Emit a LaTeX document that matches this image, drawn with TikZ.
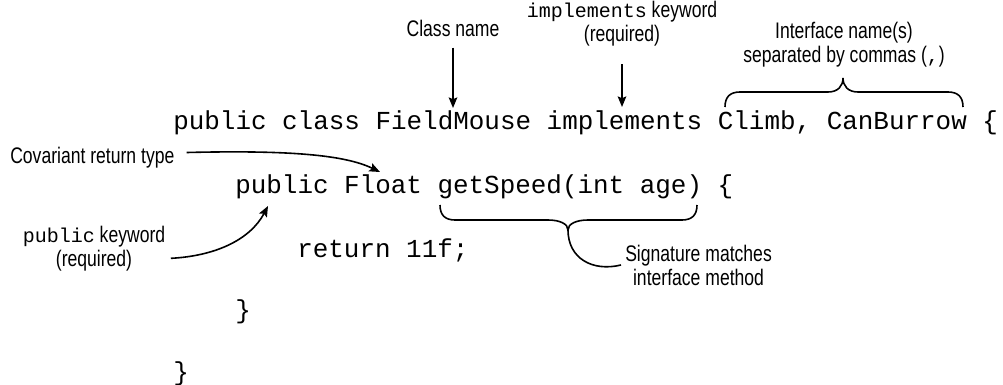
\documentclass[tikz,border=0pt]{standalone}
\usepackage{fontspec}
\newfontfamily\codefont{Liberation Mono}
\newfontfamily\lblfont{Liberation Sans}[FakeStretch=0.78]
\usetikzlibrary{arrows.meta}

\newcommand{\kw}[1]{{\codefont\fontsize{15}{18}\selectfont #1}}

\tikzset{
  code/.style={anchor=base west, inner sep=0pt, font=\codefont\fontsize{19.45}{23}\selectfont},
  lbl/.style={align=center, inner sep=0pt, font=\lblfont\fontsize{16.9}{18}\selectfont},
  arr/.style={line width=1.2pt, -{Stealth[length=8pt,width=6.5pt,inset=1.5pt]}},
  brc/.style={line width=1.2pt},
}

\begin{document}
\begin{tikzpicture}[x=0.75pt,y=0.75pt,yscale=-1,xscale=1]
\useasboundingbox (0,0) rectangle (1003,385);
\frenchspacing

% Code lines
\node[code] (l1) at (173,129) {public class FieldMouse implements Climb, CanBurrow \{};
\node[code] (l2) at (235,193) {public Float getSpeed(int age) \{};
\node[code] (l3) at (297,257) {return 11f;};
\node[code] (l4) at (235,318) {\}};
\node[code] (l5) at (173,380) {\}};

% Text Node
\node[lbl] (classlbl) at (453,28.5) {Class name};
% Text Node
\node[lbl] (implbl) at (622,24) {\kw{implements} keyword\\(required)};
% Text Node
\node[lbl] (ifacelbl) at (844,45) {Interface name(s)\\separated by commas (\kw{,})};
% Text Node
\node[lbl, anchor=base west] (covlbl) at (10,163) {Covariant return type};
% Text Node
\node[lbl] (publbl) at (94,249) {\kw{public} keyword\\(required)};
% Text Node
\node[lbl, anchor=west] (siglbl) at (625,265) {Signature matches\\interface method};

% Arrow ends
\coordinate (classtip) at (453,108);
\coordinate (impltip) at (622,107);
\coordinate (covtip) at (380,172);
\coordinate (pubtip) at (268,206);

%Straight Lines
\draw[arr, shorten <=8pt] (classlbl.south) -- (classtip);
\draw[arr, shorten <=13pt] (implbl.south) -- (impltip);

%Curve Lines
\draw[arr] ([xshift=9pt,yshift=-3.5pt]covlbl.east) .. controls (290,150) and (345,155) .. (covtip);
\draw[arr] ([xshift=4pt,yshift=7pt]publbl.east) .. controls (215,256) and (250,240) .. (pubtip);

%Brace over interface names
\draw[brc] (725,107) .. controls (725,97) and (730,92) .. (740,92) -- (828,92)
  .. controls (838,92) and (843,86) .. (843,78)
  .. controls (843,86) and (848,92) .. (858,92) -- (948,92)
  .. controls (958,92) and (963,97) .. (963,107);

%Brace under method signature
\coordinate (cusp) at (568,230);
\draw[brc] (440,205) .. controls (440,215) and (445,220) .. (455,220) -- (548,220)
  .. controls (560,220) and (568,224) .. (cusp)
  .. controls (568,224) and (576,220) .. (588,220) -- (682,220)
  .. controls (692,220) and (697,215) .. (697,205);
\draw[brc] (cusp) .. controls (568,258) and (592,272) .. ([xshift=-3pt]siglbl.west);

\end{tikzpicture}
\end{document}
